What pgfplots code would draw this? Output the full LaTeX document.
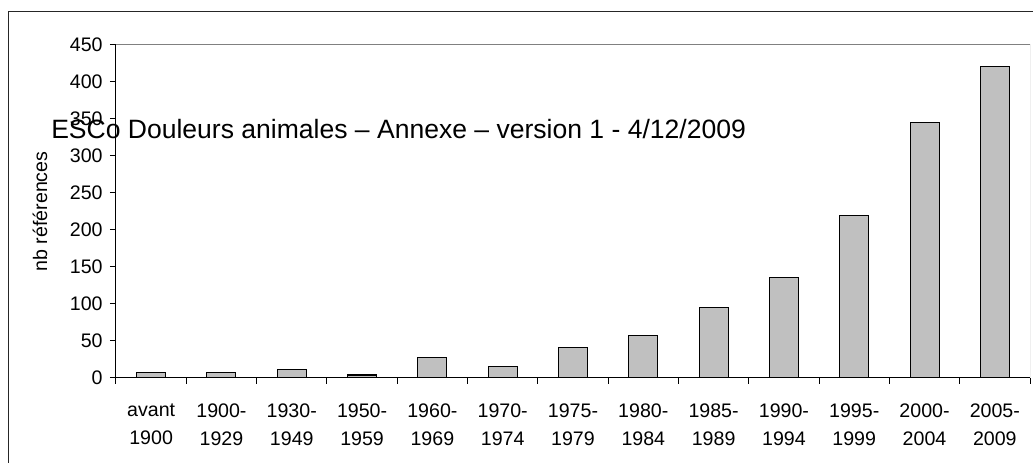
\documentclass[border=0pt]{standalone}
\usepackage{pgfplots}
\pgfplotsset{compat=1.18}
\usepackage{fontspec}
\setmainfont{Liberation Sans}
\definecolor{barfill}{HTML}{C0C0C0}
\begin{document}
\begin{tikzpicture}
\path[use as bounding box] (0,0) rectangle (774.75pt,347.25pt);
\draw[line width=0.75pt,black!85] (6pt,-5pt) -- (6pt,338.25pt) -- (780pt,338.25pt);
\begin{axis}[
  at={(87pt,63.75pt)}, anchor=south west,
  scale only axis, width=685.5pt, height=249.75pt,
  axis lines=left, axis line style={-, black, line width=0.75pt},
  xmin=-0.5, xmax=12.5, ymin=0, ymax=450,
  ytick={0,50,...,450},
  xtick={0,...,12},
  xticklabels={{avant\\1900},{1900-\\1929},{1930-\\1949},{1950-\\1959},{1960-\\1969},{1970-\\1974},{1975-\\1979},{1980-\\1984},{1985-\\1989},{1990-\\1994},{1995-\\1999},{2000-\\2004},{2005-\\2009}},
  minor xtick={-0.5,0.5,...,12.5},
  major x tick style={draw=none},
  minor x tick style={black, line width=0.75pt},
  y tick style={black, line width=0.75pt},
  tick align=outside,
  major tick length=4.5pt, minor tick length=4.5pt,
  xticklabel style={align=center, font=\fontsize{14.7pt}{21pt}\selectfont, yshift=-11.5pt},
  yticklabel style={font=\fontsize{14.7pt}{16pt}\selectfont, xshift=-2pt},
  /pgf/number format/assume math mode=true,
  ylabel={nb références},
  every axis y label/.style={at={(ticklabel cs:0.5)}, rotate=90, anchor=south, yshift=10pt, font=\fontsize{14.7pt}{16pt}\selectfont},
  ybar, bar width=21.75pt,
]
\addplot[fill=barfill, draw=black, line width=0.8pt] coordinates {
(0,7) (1,7) (2,11) (3,4) (4,28) (5,15) (6,41) (7,57) (8,95) (9,136) (10,219) (11,345) (12,421)
};
\draw[gray, line width=0.75pt] (rel axis cs:0,1) -- (rel axis cs:1,1) -- (rel axis cs:1,0);
\end{axis}
\node[anchor=base west, inner sep=0pt, font=\fontsize{19.9pt}{24pt}\selectfont] at (38.25pt,243pt) {ESCo Douleurs animales – Annexe – version 1 - 4/12/2009};
\end{tikzpicture}
\end{document}
